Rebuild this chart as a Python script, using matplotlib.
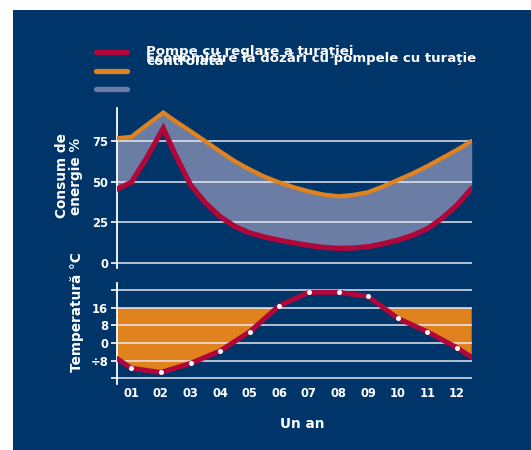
import matplotlib
matplotlib.use("Agg")
import matplotlib.pyplot as plt
from matplotlib.patches import Rectangle
from matplotlib.lines import Line2D

# ---------------- data ----------------
energy_x = [0.5, 1.0, 1.5, 2.08, 2.5, 3.0, 3.5, 4.0, 4.5, 5.0, 5.5, 6.0, 6.5,
            7.0, 7.5, 8.0, 8.5, 9.0, 9.5, 10.0, 10.5, 11.0, 11.5, 12.0, 12.5]
constant_speed = [76.6, 77.5, 84.5, 92.4, 87.0, 81.0, 74.8, 68.5, 62.5, 57.5, 53.0, 49.5, 46.5,
                  44.0, 42.0, 41.0, 41.8, 43.5, 47.0, 51.0, 55.0, 59.5, 64.5, 69.5, 75.0]
controlled_speed = [45.3, 49.5, 64.0, 82.8, 66.0, 48.0, 37.0, 28.5, 22.5, 18.5, 16.0, 14.0, 12.3,
                    10.8, 9.6, 9.0, 9.2, 10.0, 11.8, 14.0, 17.0, 21.0, 27.5, 35.5, 45.9]

temp_x = [0.5, 1, 2, 3, 4, 5, 6, 7, 8, 9, 10, 11, 12, 12.5]
temperature = [-6.9, -11.4, -13.3, -9.2, -3.6, 5.1, 16.9, 22.9, 22.9, 21.1, 11.2, 5.1, -2.1, -6.5]
heating_limit = 16

months = [1, 2, 3, 4, 5, 6, 7, 8, 9, 10, 11, 12]
month_labels = ["01", "02", "03", "04", "05", "06", "07", "08", "09", "10", "11", "12"]

energy_ticks = [0, 25, 50, 75]
energy_tick_labels = ["0", "25", "50", "75"]
temp_ticks = [-16, -8, 0, 8, 16, 24]
temp_tick_labels = ["", "÷8", "0", "8", "16", ""]

legend_texts = ["Pompe cu reglare a turaţiei", "controlată",
                "Economisire la dozări cu pompele cu turaţie"]
ylabel_top = "Consum de\nenergie %"
ylabel_bottom = "Temperatură °C"
xlabel = "Un an"

# ---------------- style ----------------
NAVY = "#00356A"
RED = "#B0063A"
ORANGE = "#E0821E"
GREY = "#6B7DA5"
GRID = "#E4E9F0"
W, H = 531, 450

plt.rcParams["font.family"] = ["DejaVu Sans"]
plt.rcParams["font.weight"] = "bold"

fig = plt.figure(figsize=(W / 100, H / 100), dpi=100)
fig.patch.set_facecolor("white")
bg = fig.add_axes([13 / W, 0, 1 - 13 / W, 1 - 10 / H], zorder=-10)
bg.set_facecolor(NAVY)
bg.set_axis_off()
bg.add_patch(Rectangle((0, 0), 1, 1, transform=bg.transAxes, facecolor=NAVY,
                       edgecolor="none"))


def fx(px):
    return px / W


def fy(py):
    return 1 - py / H


ax_left = fx(116.5)
ax_w = fx(471.7) - ax_left

ax1 = fig.add_axes([ax_left, fy(267.9), ax_w, fy(108.4) - fy(267.9)])
ax2 = fig.add_axes([ax_left, fy(383.5), ax_w, fy(283.3) - fy(383.5)])

for ax in (ax1, ax2):
    ax.set_facecolor("none")
    for s in ("top", "right", "bottom"):
        ax.spines[s].set_visible(False)
    ax.spines["left"].set_color("white")
    ax.spines["left"].set_linewidth(1.3)
    ax.set_xlim(0.5, 12.5)
    ax.tick_params(axis="y", colors="white", length=4, width=1.2, direction="out",
                   labelsize=8.3, pad=2)

# top panel
ax1.set_ylim(-3, 95)
ax1.fill_between(energy_x, controlled_speed, constant_speed, color=GREY, lw=0, zorder=1)
for v in energy_ticks:
    ax1.axhline(v, color=GRID, lw=1.1, zorder=2)
ax1.plot(energy_x, constant_speed, color=ORANGE, lw=3.1, zorder=3, solid_capstyle="round",
         solid_joinstyle="miter")
ax1.plot(energy_x, controlled_speed, color=RED, lw=3.8, zorder=4, solid_capstyle="round",
         solid_joinstyle="miter")
ax1.set_yticks(energy_ticks)
ax1.set_yticklabels(energy_tick_labels, color="white", fontweight="bold")
ax1.set_xticks([])

# bottom panel
ax2.set_ylim(-18.3, 27)
ax2.fill_between(temp_x, temperature, heating_limit,
                 where=[t < heating_limit for t in temperature],
                 interpolate=True, color=ORANGE, lw=0, zorder=1)
for v in temp_ticks:
    ax2.axhline(v, color=GRID, lw=1.1, zorder=2)
ax2.plot(temp_x, temperature, color=RED, lw=3.6, zorder=3, solid_capstyle="round")
ax2.plot(months, temperature[1:-1], linestyle="none", marker="o", ms=3.6,
         mfc="white", mec="none", zorder=4)
ax2.set_yticks(temp_ticks)
ax2.set_yticklabels(temp_tick_labels, color="white", fontweight="bold")
ax2.set_xticks(months)
ax2.set_xticklabels(month_labels, color="white", fontweight="bold")
ax2.tick_params(axis="x", length=0, pad=2.5, labelsize=8.3)

# axis labels
fig.text(fx(69), fy(176), ylabel_top, rotation=90, color="white", fontsize=9.8,
         fontweight="bold", ha="center", va="center", linespacing=1.05)
fig.text(fx(77), fy(312), ylabel_bottom, rotation=90, color="white", fontsize=9.8,
         fontweight="bold", ha="center", va="center")
fig.text(fx(302), fy(424), xlabel, color="white", fontsize=9.8, fontweight="bold",
         ha="center", va="center")

# legend
for py, c in ((51.7, RED), (70.7, ORANGE), (89.3, GREY)):
    fig.add_artist(Line2D([fx(96), fx(127)], [fy(py), fy(py)], color=c, lw=3.8,
                          solid_capstyle="round", transform=fig.transFigure))
fig.text(fx(146), fy(55), legend_texts[0], color="white", fontsize=9.6,
         fontweight="bold", ha="left", va="baseline")
fig.text(fx(146), fy(65), legend_texts[1], color="white", fontsize=9.6,
         fontweight="bold", ha="left", va="baseline")
fig.text(fx(146), fy(62), legend_texts[2], color="white", fontsize=9.5,
         fontweight="bold", ha="left", va="baseline")

fig.savefig("out.png", dpi=100, facecolor=fig.get_facecolor())
